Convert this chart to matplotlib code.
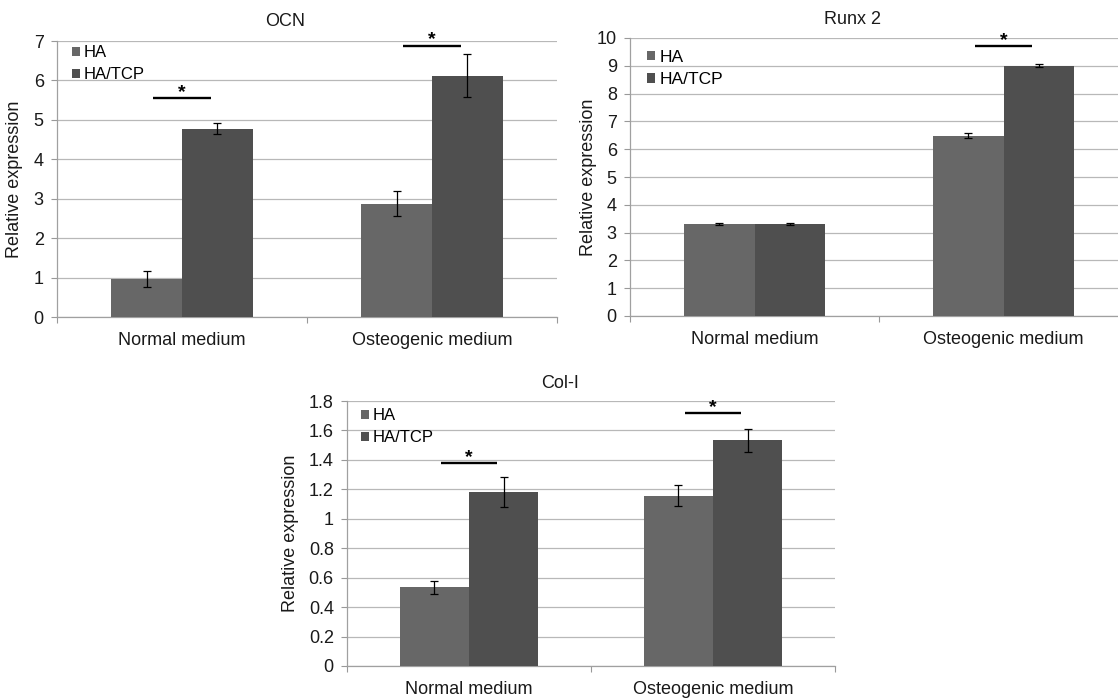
import matplotlib
matplotlib.use("Agg")
import matplotlib.pyplot as plt
import numpy as np
from matplotlib.transforms import offset_copy

plt.rcParams['font.family'] = ['Liberation Sans', 'DejaVu Sans']

categories = ["Normal medium", "Osteogenic medium"]
series = ["HA", "HA/TCP"]

ocn_ha = [0.97, 2.87]
ocn_ha_err = [0.20, 0.32]
ocn_tcp = [4.78, 6.12]
ocn_tcp_err = [0.13, 0.54]
ocn_sig = [5.55, 6.88]

runx_ha = [3.31, 6.49]
runx_ha_err = [0.05, 0.09]
runx_tcp = [3.31, 9.00]
runx_tcp_err = [0.03, 0.05]
runx_sig = [None, 9.71]

col_ha = [0.534, 1.158]
col_ha_err = [0.043, 0.070]
col_tcp = [1.183, 1.534]
col_tcp_err = [0.100, 0.078]
col_sig = [1.379, 1.717]

W, H = 1118, 698
fig = plt.figure(figsize=(W / 100, H / 100), dpi=100)
fig.patch.set_facecolor('white')

C_HA = '#676767'
C_TCP = '#4f4f4f'
GRID = '#b8b8b8'
TXT = '#1a1a1a'


def make_axes(left, right, top, bottom):
    return fig.add_axes([left / W, (H - bottom) / H, (right - left) / W, (bottom - top) / H])


def panel(ax, ha, ha_err, tcp, tcp_err, sig, ymax, ystep, yfmt, title, title_x, title_dy,
          leg_dx, leg_dy, ylab_x, leg_fs=12):
    x = np.arange(len(categories))
    bw = 0.283
    b1 = ax.bar(x - bw / 2, ha, bw, color=C_HA, label=series[0], zorder=3)
    b2 = ax.bar(x + bw / 2, tcp, bw, color=C_TCP, label=series[1], zorder=3)
    ax.errorbar(x - bw / 2, ha, yerr=ha_err, fmt='none', ecolor='black', elinewidth=0.9,
                capsize=2.6, capthick=0.9, zorder=4)
    ax.errorbar(x + bw / 2, tcp, yerr=tcp_err, fmt='none', ecolor='black', elinewidth=0.9,
                capsize=2.6, capthick=0.9, zorder=4)
    for xi, s in zip(x, sig):
        if s is None:
            continue
        ax.plot([xi - 0.115, xi + 0.115], [s, s], color='black', lw=1.7, zorder=5,
                solid_capstyle='butt')
        tr = offset_copy(ax.transData, fig=fig, x=0, y=1.0, units='points')
        ax.text(xi, s, '*', transform=tr, ha='center', va='baseline', fontsize=14,
                fontweight='bold', color='black', zorder=6)
    ax.set_xlim(-0.5, len(categories) - 0.5)
    ax.set_ylim(0, ymax)
    ax.set_yticks(np.arange(0, ymax + ystep / 2, ystep))
    ax.set_yticklabels([yfmt(v) for v in np.arange(0, ymax + ystep / 2, ystep)])
    ax.set_xticks([-0.5, 0.5, 1.5])
    ax.set_xticklabels([])
    ax.set_xticks(x, minor=True)
    ax.set_xticklabels(categories, minor=True)
    ax.tick_params(axis='x', which='major', direction='out', length=4, width=0.8, color='#999999')
    ax.tick_params(axis='x', which='minor', length=0, pad=11, labelsize=13, labelcolor=TXT)
    ax.tick_params(axis='y', direction='out', length=4.5, width=0.8, color='#999999',
                   pad=5, labelsize=13, labelcolor=TXT)
    ax.yaxis.grid(True, color=GRID, lw=0.9, zorder=0)
    ax.set_axisbelow(True)
    for sp in ['top', 'right']:
        ax.spines[sp].set_visible(False)
    for sp in ['left', 'bottom']:
        ax.spines[sp].set_color('#a0a0a0')
        ax.spines[sp].set_linewidth(0.9)
    ax.set_ylabel('Relative expression', fontsize=13, color=TXT)
    ax.yaxis.set_label_coords(ylab_x, 0.5)
    bb = ax.get_position()
    wpx = bb.width * W
    hpx = bb.height * H
    ax.text(title_x, 1 + title_dy / hpx, title, transform=ax.transAxes, ha='center', va='center',
            fontsize=13, color=TXT)
    ax.legend(handles=[b1, b2], loc='upper left',
              bbox_to_anchor=(leg_dx / wpx, 1 - leg_dy / hpx),
              frameon=False, fontsize=leg_fs, handlelength=0.45, handleheight=0.45,
              handletextpad=0.25, labelspacing=0.42, borderpad=0, borderaxespad=0)


def fmt_int(v):
    return '%d' % round(v)


def fmt_dec(v):
    s = '%.1f' % v
    if s.endswith('.0'):
        s = s[:-2]
    return s


ax1 = make_axes(57, 557, 41, 317)
panel(ax1, ocn_ha, ocn_ha_err, ocn_tcp, ocn_tcp_err, ocn_sig, 7, 1, fmt_int,
      'OCN', (285 - 57) / 500, 20, 15, 4, (23 - 57) / 500)

ax2 = make_axes(630, 1128, 38, 316)
panel(ax2, runx_ha, runx_ha_err, runx_tcp, runx_tcp_err, runx_sig, 10, 1, fmt_int,
      'Runx 2', (853 - 630) / 498, 19, 17, 12, (597 - 630) / 498, leg_fs=12.5)

ax3 = make_axes(347, 835, 401, 666)
panel(ax3, col_ha, col_ha_err, col_tcp, col_tcp_err, col_sig, 1.8, 0.2, fmt_dec,
      'Col-I', (560 - 347) / 488, 17, 14, 7, (299 - 347) / 488)

fig.savefig('out.png', dpi=100, facecolor='white')
